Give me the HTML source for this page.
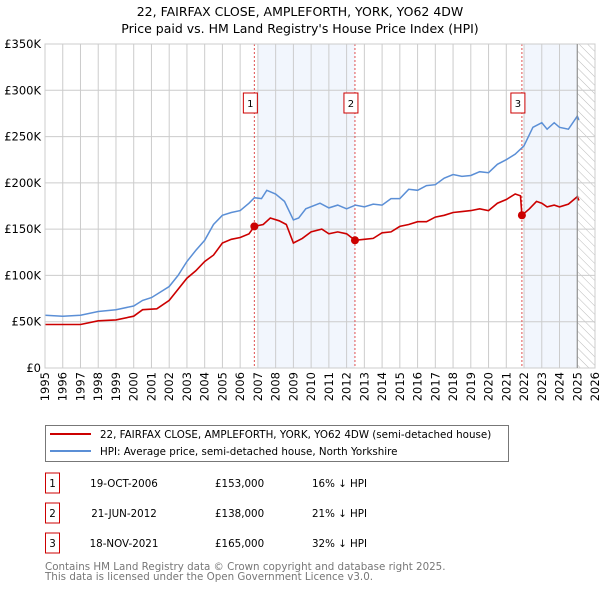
<!DOCTYPE html>
<html><head><meta charset="utf-8"><style>
body{margin:0;background:#fff;font-family:"Liberation Sans","DejaVu Sans",sans-serif}
svg{display:block}
</style></head><body>
<svg id="c" width="600" height="590" xmlns="http://www.w3.org/2000/svg" font-family="DejaVu Sans, Liberation Sans, sans-serif">
<defs><pattern id="hatch" width="6" height="6" patternUnits="userSpaceOnUse" patternTransform="rotate(-45)"><line x1="0" y1="0" x2="0" y2="6" stroke="#bbb" stroke-width="1"/></pattern></defs>
<text x="300" y="16" text-anchor="middle" font-size="12.5" fill="#000">22, FAIRFAX CLOSE, AMPLEFORTH, YORK, YO62 4DW</text>
<text x="300" y="33" text-anchor="middle" font-size="12.5" fill="#000">Price paid vs. HM Land Registry's House Price Index (HPI)</text>
<g id="bg"></g><g id="grid"></g><g id="series"></g><g id="axes"></g>
<g>
<rect x="45.5" y="425.5" width="463" height="36" fill="#fff" stroke="#777"/>
<line x1="50" y1="434" x2="91" y2="434" stroke="#cc0000" stroke-width="2"/>
<text x="100" y="438" font-size="10.3">22, FAIRFAX CLOSE, AMPLEFORTH, YORK, YO62 4DW (semi-detached house)</text>
<line x1="50" y1="451" x2="91" y2="451" stroke="#5b8fd6" stroke-width="2"/>
<text x="100" y="455" font-size="10.3">HPI: Average price, semi-detached house, North Yorkshire</text>
</g>
<g id="table" font-size="10.3" fill="#000"></g>
<text x="45" y="570" font-size="10.3" fill="#777">Contains HM Land Registry data © Crown copyright and database right 2025.</text>
<text x="45" y="580" font-size="10.3" fill="#777">This data is licensed under the Open Government Licence v3.0.</text>
</svg>
<script>
const yTicks=[0,50000,100000,150000,200000,250000,300000,350000];
const yTickLabels=["£0","£50K","£100K","£150K","£200K","£250K","£300K","£350K"];
const xYears=[1995,1996,1997,1998,1999,2000,2001,2002,2003,2004,2005,2006,2007,2008,2009,2010,2011,2012,2013,2014,2015,2016,2017,2018,2019,2020,2021,2022,2023,2024,2025,2026];
const hpiT=[1995,1996,1997,1998,1999,2000,2000.5,2001,2001.5,2002,2002.5,2003,2003.5,2004,2004.5,2005,2005.5,2006,2006.5,2006.8,2007.2,2007.5,2008,2008.5,2009,2009.3,2009.7,2010.5,2011,2011.5,2012,2012.5,2013,2013.5,2014,2014.5,2015,2015.5,2016,2016.5,2017,2017.5,2018,2018.5,2019,2019.5,2020,2020.5,2021,2021.5,2022,2022.5,2023,2023.3,2023.7,2024,2024.5,2025,2025.1];
const hpiV=[57,56,57,61,63,67,73,76,82,88,100,115,127,138,155,165,168,170,178,184,183,192,188,180,160,162,172,178,173,176,172,176,174,177,176,183,183,193,192,197,198,205,209,207,208,212,211,220,225,231,240,260,265,258,265,260,258,272,268];
const priceT=[1995,1997,1998,1999,2000,2000.5,2001.3,2002,2002.5,2003,2003.5,2004,2004.5,2005,2005.5,2006,2006.5,2006.8,2007.3,2007.7,2008.2,2008.6,2009,2009.5,2010,2010.6,2011,2011.5,2012,2012.47,2013,2013.5,2014,2014.5,2015,2015.5,2016,2016.5,2017,2017.5,2018,2018.5,2019,2019.5,2020,2020.5,2021,2021.5,2021.8,2021.88,2022.3,2022.7,2023,2023.3,2023.7,2024,2024.5,2025,2025.1];
const priceV=[47,47,51,52,56,63,64,73,85,97,105,115,122,135,139,141,145,153,155,162,159,155,135,140,147,150,145,147,145,138,139,140,146,147,153,155,158,158,163,165,168,169,170,172,170,178,182,188,186,165,172,180,178,174,176,174,177,185,181];
const saleLabels=["1","2","3"];
const saleT=[2006.8,2012.47,2021.88];
const saleV=[153000,138000,165000];
const saleDates=["19-OCT-2006","21-JUN-2012","18-NOV-2021"];
const salePrices=["£153,000","£138,000","£165,000"];
const saleDiffs=["16% ↓ HPI","21% ↓ HPI","32% ↓ HPI"];
const X0=45,X1=595,Y0=368,Y1=44;
const x=t=>X0+(t-1995)*(X1-X0)/31;
const y=v=>Y0-v*(Y0-Y1)/350000;
const NS="http://www.w3.org/2000/svg";
function mk(tag,attrs,parent){const e=document.createElementNS(NS,tag);for(const k in attrs)e.setAttribute(k,attrs[k]);parent.appendChild(e);return e;}
const bg=document.getElementById('bg'),grid=document.getElementById('grid'),ser=document.getElementById('series'),axes=document.getElementById('axes'),tbl=document.getElementById('table');
let r=mk('rect',{x:x(2007),y:Y1,width:x(saleT[1])-x(2007),height:Y0-Y1,fill:'#f2f6fd'},bg);


r=mk('rect',{x:x(2022),y:Y1,width:x(2025)-x(2022),height:Y0-Y1,fill:'#f2f6fd'},bg);


r=mk('rect',{x:x(2025),y:Y1,width:X1-x(2025),height:Y0-Y1,fill:'url(#hatch)'},bg);


yTicks.forEach((v,i)=>{
 const l=mk('line',{x1:X0,x2:X1,y1:y(v),y2:y(v),stroke:'#ccc'},grid);
 
 
 const t=mk('text',{x:X0-4,y:y(v)+4,'text-anchor':'end','font-size':'11.5'},axes);
 
 
 t.textContent=yTickLabels[i];
});
xYears.forEach(yr=>{
 const l=mk('line',{x1:x(yr),x2:x(yr),y1:Y1,y2:Y0,stroke:'#ccc'},grid);
 
 
 const t=mk('text',{x:x(yr),y:Y0+4,'text-anchor':'end','font-size':'11.5',transform:`rotate(-90 ${x(yr)} ${Y0+4})`,dy:'4'},axes);
 
 
 t.textContent=yr;
});
const fr=mk('rect',{x:X0,y:Y1,width:X1-X0,height:Y0-Y1,fill:'none',stroke:'#ccc'},axes);


const el=mk('line',{x1:x(2025),x2:x(2025),y1:Y1,y2:Y0,stroke:'#888'},axes);


saleT.forEach((t,i)=>{
 const l=mk('line',{x1:x(t),x2:x(t),y1:Y1,y2:Y0,stroke:'#e05050','stroke-dasharray':'2,2','stroke-width':1},ser);
 
 
 const b=mk('rect',{x:x(t)-11,y:93,width:14,height:20,fill:'#fff',stroke:'#cc0000'},ser);
 
 
 const tx=mk('text',{x:x(t)-4,y:107,'text-anchor':'middle','font-size':'10'},ser);
 
 
 tx.textContent=saleLabels[i];
});
function path(T,V){return T.map((t,i)=>(i?'L':'M')+x(t).toFixed(1)+','+y(V[i]*1000).toFixed(1)).join('');}
const hp=mk('path',{d:path(hpiT,hpiV),fill:'none',stroke:'#5b8fd6','stroke-width':1.5},ser);


const pp=mk('path',{d:path(priceT,priceV),fill:'none',stroke:'#cc0000','stroke-width':1.6},ser);


saleT.forEach((t,i)=>{
 const c=mk('circle',{cx:x(t),cy:y(saleV[i]),r:4,fill:'#cc0000'},ser);
 
 
});
saleT.forEach((t,i)=>{
 const cy=483+i*30;
 const b=mk('rect',{x:45.5,y:cy-10,width:14,height:20,fill:'#fff',stroke:'#cc0000'},tbl);
 
 
 const n=mk('text',{x:52.5,y:cy+4,'text-anchor':'middle'},tbl);
 
 
 n.textContent=saleLabels[i];
 const d=mk('text',{x:124,y:cy+4,'text-anchor':'middle'},tbl);
 
 
 d.textContent=saleDates[i];
 const p=mk('text',{x:215,y:cy+4},tbl);
 
 
 p.textContent=salePrices[i];
 const h=mk('text',{x:312,y:cy+4},tbl);
 
 
 h.textContent=saleDiffs[i];
});
</script>
</body></html>
